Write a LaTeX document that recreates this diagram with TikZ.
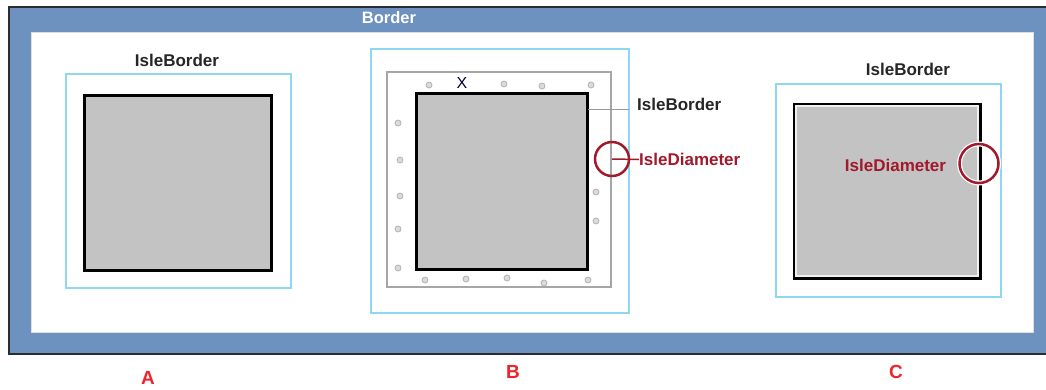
\documentclass[tikz,border=0pt]{standalone}
\usepackage{fontspec}
\setmainfont{Liberation Sans}
\definecolor{frameblue}{HTML}{6E92BF}
\definecolor{framedark}{HTML}{2A2E33}
\definecolor{isleblue}{HTML}{8ED6F2}
\definecolor{islegray}{HTML}{C3C3C3}
\definecolor{diamred}{HTML}{A01A2C}
\definecolor{letterred}{HTML}{F0222C}
\definecolor{dotgray}{HTML}{B8B8B8}
\tikzset{
  lbl/.style={font=\fontsize{17}{20}\bfseries\selectfont, text=black!85, inner sep=0pt},
  dlbl/.style={font=\fontsize{17}{20}\bfseries\selectfont, text=diamred, inner sep=0pt},
  letter/.style={font=\fontsize{19}{22}\bfseries\selectfont, text=letterred, inner sep=0pt},
  islebox/.style={draw=isleblue, line width=1.5pt, fill=white, inner sep=0pt},
  isle/.style={draw=black, line width=3pt, fill=islegray, inner sep=0pt},
  graybox/.style={draw=gray!70, line width=1.4pt, inner sep=0pt},
  dot/.style={circle, draw=gray!60, fill=dotgray!50, line width=0.8pt, minimum size=6pt, inner sep=0pt},
  diam/.style={circle, draw=diamred, line width=2.5pt, inner sep=0pt},
}
\begin{document}
\begin{tikzpicture}[x=1pt,y=-1pt]
\useasboundingbox (0,0) rectangle (1046,389);
% outer border frame
\draw[framedark, line width=2.5pt, fill=frameblue] (9,7) rectangle (1052,354);
\draw[fill=white, draw=gray!25, line width=0.8pt] (31,32) rectangle (1033,332);
\node[font=\fontsize{16.5}{19}\bfseries\selectfont, text=white, inner sep=0pt] (border) at (389,18) {Border};

% Panel A
\node[islebox, minimum width=225pt, minimum height=214pt] (cyanA) at (178.5,181) {};
\node[isle, minimum width=187pt, minimum height=175pt] (sqA) at (177.5,182.5) {};
\node[lbl] (ibA) at (177,60) {IsleBorder};

% Panel B
\node[islebox, minimum width=258pt, minimum height=264pt] (cyanB) at (500,181) {};
\node[graybox, minimum width=224pt, minimum height=215pt] (grayB) at (499,179.5) {};
\foreach \i/\p in {1/{(429,85)},2/{(504,84)},3/{(542,86)},4/{(591,85)},
  5/{(398,123)},6/{(400,160)},7/{(400,196)},8/{(398,229)},9/{(398,268)},
  10/{(425,280)},11/{(466,279)},12/{(507,278)},13/{(544,283)},14/{(588,280)},
  15/{(596,192)},16/{(596,221)}}
  \node[dot] (d\i) at \p {};
\node[isle, minimum width=171pt, minimum height=176pt] (sqB) at (501.5,181) {};
\node[font=\fontsize{16}{19}\selectfont, text=black!80!blue, inner sep=0pt] (xB) at (462,83) {X};
\node[lbl, anchor=west] (ibB) at (637,104) {IsleBorder};
\coordinate (ibBs) at (588,109);
\coordinate (ibBe) at (629,109);
\draw[gray!80, line width=1pt] (ibBs) -- (ibBe);
\node[diam, minimum size=34pt] (circB) at (612,159) {};
\node[dlbl, anchor=west] (idB) at (639,159.5) {IsleDiameter};
\draw[diamred, line width=1.5pt] (circB.center) -- (idB.west);

% Panel C
\node[islebox, minimum width=225pt, minimum height=213pt] (cyanC) at (888.5,190.5) {};
\node[isle, minimum width=186pt, minimum height=174pt] (sqC) at (887,191) {};
\draw[gray!12, line width=1.5pt] ([shift={(3.5pt,3.5pt)}]sqC.south west) rectangle ([shift={(-3.5pt,-3.5pt)}]sqC.north east);
\node[lbl] (ibC) at (908,69) {IsleBorder};
\node[circle, draw=white, line width=5pt, minimum size=39pt, inner sep=0pt] (haloC) at (979,163.5) {};
\node[diam, minimum size=39pt] (circC) at (979,163.5) {};
\node[dlbl] (idC) at (895.5,165) {IsleDiameter};

% letters
\node[letter] (lA) at (148,378) {A};
\node[letter] (lB) at (513,372) {B};
\node[letter] (lC) at (896,372) {C};
\end{tikzpicture}
\end{document}
